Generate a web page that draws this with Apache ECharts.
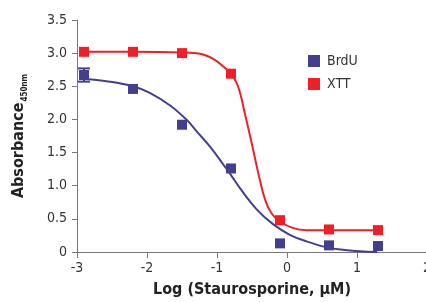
<!DOCTYPE html>
<html><head><meta charset="utf-8">
<script src="https://cdn.jsdelivr.net/npm/echarts@6/dist/echarts.min.js"></script>
<style>html,body{margin:0;padding:0;background:#fff}#c{width:426px;height:302px}</style>
</head><body><div id="c"></div>
<script>
// Measured points (log concentration, absorbance)
const xPts = [-2.9, -2.2, -1.5, -0.8, -0.1, 0.6, 1.3];
const brduVals = [2.67, 2.46, 1.92, 1.26, 0.13, 0.10, 0.09];
const xttVals = [3.02, 3.02, 3.00, 2.69, 0.48, 0.34, 0.33];
// Error bar on first BrdU point: [x, low, high]
const brduErr = [[-2.9, 2.57, 2.77]];
// Fitted curves
const brduCurveX = [-2.89, -2.53, -2.2, -1.96, -1.67, -1.43, -1.29, -1.1, -0.91, -0.8, -0.67, -0.43, -0.2, 0.04, 0.28, 0.57, 0.83, 1.04, 1.29];
const brduCurveY = [2.61, 2.57, 2.50, 2.40, 2.21, 1.99, 1.82, 1.59, 1.32, 1.16, 0.96, 0.64, 0.42, 0.26, 0.16, 0.07, 0.03, 0.01, 0.0];
const xttCurveX = [-2.89, -2.2, -1.5, -1.24, -1.05, -0.91, -0.8, -0.7, -0.6, -0.5, -0.41, -0.31, -0.22, -0.1, 0.09, 0.28, 0.6, 1.3];
const xttCurveY = [3.02, 3.02, 3.01, 2.99, 2.91, 2.80, 2.69, 2.50, 2.08, 1.62, 1.19, 0.78, 0.58, 0.46, 0.36, 0.33, 0.33, 0.33];
const yTicks = ['0', '0.5', '1.0', '1.5', '2.0', '2.5', '3.0', '3.5'];
const xTicks = ['-3', '-2', '-1', '0', '1', '2'];

const BLUE = '#433f8e', RED = '#ee1f26';
const FONT = '"Liberation Sans Narrow","DejaVu Sans Condensed","Roboto",sans-serif';
const zip = (a, b) => a.map((v, i) => [v, b[i]]);

const chart = echarts.init(document.getElementById('c'), null, {renderer: 'canvas'});
chart.setOption({
  animation: false,
  grid: {left: 77, right: -1, top: 20, bottom: 50, outerBoundsMode: 'none', containLabel: false},
  legend: {
    orient: 'vertical', left: 303, top: 49, itemWidth: 12, itemHeight: 12, itemGap: 9,
    icon: 'rect', data: ['BrdU', 'XTT'],
    textStyle: {fontFamily: FONT, fontSize: 14, color: '#333', padding: [0, 0, 0, 2]}
  },
  xAxis: {
    type: 'value', min: -3, max: 2, interval: 1,
    name: 'Log (Staurosporine, µM)', nameLocation: 'middle', nameGap: 30,
    nameTextStyle: {fontFamily: FONT, fontSize: 16, fontWeight: 'bold', color: '#222'},
    axisLine: {onZero: false, lineStyle: {color: '#777', width: 1}},
    axisTick: {show: true, length: 6, lineStyle: {color: '#777'}},
    splitLine: {show: false},
    axisLabel: {fontFamily: FONT, fontSize: 14, color: '#333', margin: 9,
      formatter: v => xTicks[Math.round(v + 3)]}
  },
  yAxis: {
    type: 'value', min: 0, max: 3.5, interval: 0.5,
    name: '{a|Absorbance}{b|450nm}', nameLocation: 'middle', nameGap: 48,
    nameTextStyle: {rich: {
      a: {fontFamily: FONT, fontSize: 16, fontWeight: 'bold', color: '#222'},
      b: {fontFamily: FONT, fontSize: 8, fontWeight: 'bold', color: '#222', padding: [12, 0, 0, 1]}
    }},
    axisLine: {show: true, onZero: false, lineStyle: {color: '#777', width: 1}},
    axisTick: {show: true, length: 5, lineStyle: {color: '#777'}},
    splitLine: {show: false},
    axisLabel: {fontFamily: FONT, fontSize: 14, color: '#333', margin: 10,
      formatter: v => yTicks[Math.round(v * 2)]}
  },
  series: [
    {name: 'BrdU fit', type: 'line', data: zip(brduCurveX, brduCurveY), smooth: 0.4,
      showSymbol: false, lineStyle: {color: BLUE, width: 2}, z: 2, silent: true},
    {name: 'XTT fit', type: 'line', data: zip(xttCurveX, xttCurveY), smooth: 0.4,
      showSymbol: false, lineStyle: {color: RED, width: 2}, z: 2, silent: true},
    {name: 'BrdU err', type: 'custom', z: 3, data: brduErr,
      renderItem: (params, api) => {
        const lo = api.coord([api.value(0), api.value(1)]);
        const hi = api.coord([api.value(0), api.value(2)]);
        const w = 6;
        const st = {stroke: BLUE, lineWidth: 2};
        return {type: 'group', children: [
          {type: 'line', shape: {x1: lo[0], y1: lo[1], x2: hi[0], y2: hi[1]}, style: st},
          {type: 'line', shape: {x1: lo[0] - w, y1: lo[1], x2: lo[0] + w, y2: lo[1]}, style: st},
          {type: 'line', shape: {x1: hi[0] - w, y1: hi[1], x2: hi[0] + w, y2: hi[1]}, style: st}
        ]};
      }},
    {name: 'BrdU', type: 'scatter', data: zip(xPts, brduVals), symbol: 'rect', symbolSize: 10,
      itemStyle: {color: BLUE, opacity: 1}, z: 4},
    {name: 'XTT', type: 'scatter', data: zip(xPts, xttVals), symbol: 'rect', symbolSize: 10,
      itemStyle: {color: RED, opacity: 1}, z: 4}
  ]
});
</script></body></html>
